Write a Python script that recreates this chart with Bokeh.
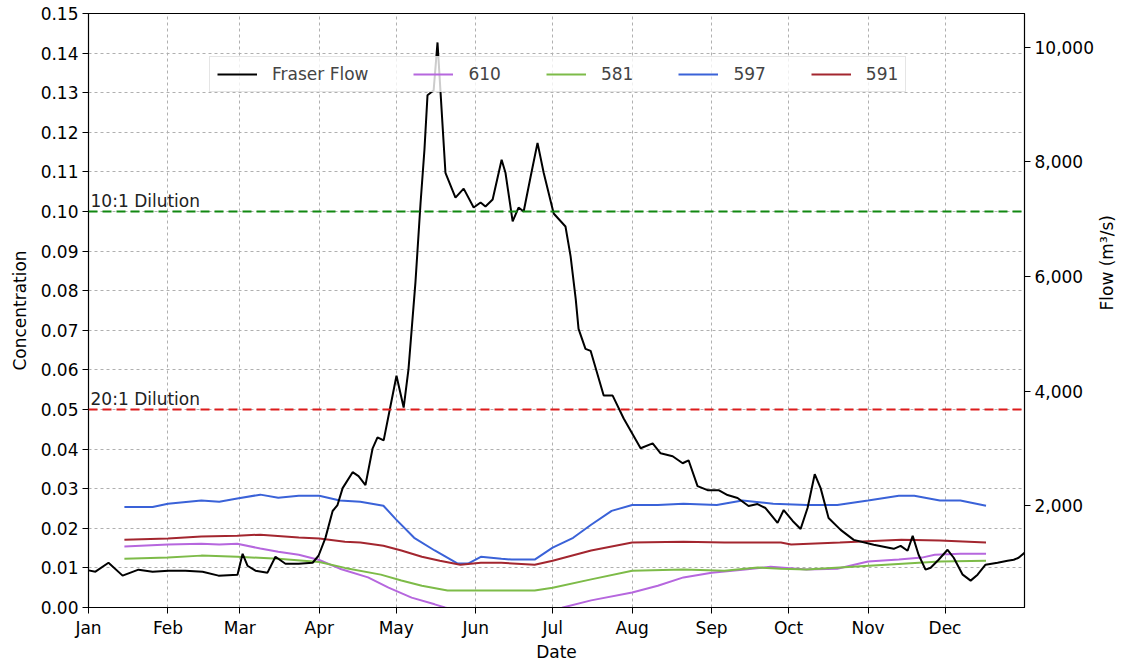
import math
from bokeh.plotting import figure
from bokeh.models import (Range1d, LinearAxis, FixedTicker, NumeralTickFormatter,
                          Span, Label, Legend, LegendItem)
from bokeh.embed import file_html
from bokeh.resources import INLINE

# ---------------- data ----------------
month_labels = ["Jan", "Feb", "Mar", "Apr", "May", "Jun",
                "Jul", "Aug", "Sep", "Oct", "Nov", "Dec"]
month_start_days = [0, 31, 59, 90, 120, 151, 181, 212, 243, 273, 304, 334]

conc_ticks = [0.00, 0.01, 0.02, 0.03, 0.04, 0.05, 0.06, 0.07, 0.08,
              0.09, 0.10, 0.11, 0.12, 0.13, 0.14, 0.15]
flow_ticks = [2000, 4000, 6000, 8000, 10000]

# Fraser River flow (m3/s), day of year
flow_days = [0, 2.7, 7.8, 13.3, 19.5, 25.0, 31.2, 37.8, 44.5, 50.7,
             58.1, 60.1, 62.0, 65.1, 69.8, 72.9, 76.8, 81.9, 87.4, 89.7,
             92.4, 95.2, 97.1, 99.1, 103.0, 105.3, 108.0, 110.8, 112.7, 115.1,
             117.8, 120.1, 122.9, 124.8, 127.5, 129.5, 131.0, 132.2, 134.6, 136.1,
             137.3, 139.2, 143.1, 146.3, 150.2, 152.9, 154.8, 157.6, 161.1, 162.6,
             165.4, 167.7, 169.7, 172.4, 175.1, 177.5, 181.4, 186.0, 188.0, 190.0,
             191.1, 193.8, 195.8, 200.9, 204.4, 208.7, 215.3, 220.0, 223.1, 227.8,
             231.7, 234.0, 237.5, 241.4, 245.7, 249.2, 253.1, 257.4, 260.9, 264.0,
             268.7, 271.1, 274.6, 277.7, 280.4, 283.2, 285.5, 288.6, 293.3, 298.4,
             306.2, 314.0, 316.7, 319.4, 321.4, 323.7, 326.4, 328.4, 331.5, 335.0,
             337.4, 340.9, 344.0, 346.7, 349.8, 354.5, 358.4, 360.8, 362.7, 365]
flow_values = [874, 851, 1007, 782, 886, 851, 868, 868, 851, 782,
               799, 1163, 955, 868, 834, 1111, 990, 990, 1007, 1129,
               1441, 1910, 2014, 2309, 2587, 2518, 2361, 3004, 3195, 3142,
               3750, 4271, 3715, 4392, 5903, 7292, 8212, 9166, 9253, 10086,
               9201, 7812, 7378, 7535, 7205, 7292, 7222, 7344, 8038, 7812,
               6962, 7205, 7135, 7743, 8333, 7812, 7101, 6875, 6354, 5608,
               5087, 4740, 4705, 3924, 3924, 3524, 3004, 3090, 2917, 2865,
               2743, 2795, 2344, 2274, 2274, 2188, 2136, 1997, 2031, 1962,
               1702, 1927, 1736, 1597, 1962, 2552, 2309, 1788, 1580, 1406,
               1320, 1250, 1302, 1216, 1476, 1146, 886, 920, 1059, 1233,
               1094, 799, 695, 799, 972, 1007, 1042, 1059, 1094, 1181]

# Station 610 concentration
s610_days = [14, 31, 44, 51, 58, 67, 74, 82, 90, 98, 109, 117, 126, 135, 139,
             150, 165, 178, 185, 196, 212, 222, 232, 243, 256, 266, 280, 292,
             304, 316, 325, 330, 340, 350]
s610_conc = [0.0154, 0.0159, 0.0161, 0.0159, 0.0161, 0.0149, 0.0141, 0.0133,
             0.0120, 0.0098, 0.0076, 0.0050, 0.0025, 0.0008, 0.0000,
             -0.0020, -0.0030, -0.0020, 0.0000, 0.0018, 0.0038, 0.0055, 0.0076,
             0.0088, 0.0096, 0.0103, 0.0096, 0.0098, 0.0116, 0.0121, 0.0126,
             0.0133, 0.0136, 0.0136]

# Station 581 concentration
s581_days = [14, 31, 44, 58, 74, 90, 100, 114, 122, 130, 140, 150, 161, 174,
             181, 196, 212, 232, 248, 261, 270, 280, 293, 306, 319, 332, 350]
s581_conc = [0.0123, 0.0126, 0.0131, 0.0128, 0.0123, 0.0115, 0.0100, 0.0083,
             0.0068, 0.0055, 0.0043, 0.0043, 0.0043, 0.0043, 0.0050, 0.0071,
             0.0093, 0.0096, 0.0093, 0.0101, 0.0098, 0.0096, 0.0101, 0.0106,
             0.0111, 0.0116, 0.0118]

# Station 597 concentration
s597_days = [14, 25, 31, 44, 51, 58, 67, 74, 82, 90, 98, 106, 115, 120, 127,
             135, 144, 148, 153, 161, 165, 174, 181, 189, 196, 204, 212, 222,
             232, 245, 255, 267, 280, 292, 304, 316, 322, 332, 340, 350]
s597_conc = [0.0254, 0.0254, 0.0262, 0.0270, 0.0267, 0.0275, 0.0285, 0.0277,
             0.0282, 0.0282, 0.0270, 0.0267, 0.0257, 0.0222, 0.0176, 0.0144,
             0.0111, 0.0111, 0.0128, 0.0123, 0.0121, 0.0121, 0.0151, 0.0176,
             0.0209, 0.0244, 0.0259, 0.0259, 0.0262, 0.0259, 0.0270, 0.0262,
             0.0259, 0.0259, 0.0270, 0.0282, 0.0282, 0.0270, 0.0270, 0.0257]

# Station 591 concentration
s591_days = [14, 31, 44, 58, 67, 82, 90, 100, 106, 115, 122, 130, 137, 145,
             153, 161, 174, 181, 196, 212, 232, 248, 270, 274, 293, 317, 332, 350]
s591_conc = [0.0171, 0.0174, 0.0179, 0.0181, 0.0184, 0.0177, 0.0174, 0.0166,
             0.0164, 0.0156, 0.0144, 0.0128, 0.0118, 0.0108, 0.0113, 0.0113,
             0.0108, 0.0118, 0.0144, 0.0164, 0.0166, 0.0164, 0.0164, 0.0159,
             0.0164, 0.0171, 0.0169, 0.0164]

dilution_levels = [0.10, 0.05]
dilution_labels = ["10:1 Dilution", "20:1 Dilution"]

# ---------------- figure ----------------
FONT = "DejaVu Sans"
FS = "17px"

W, H = 1130, 664
FL, FR, FT, FB = 88, 1024, 13, 610   # frame edges in figure pixels

p = figure(width=W, height=H, output_backend="svg", toolbar_location=None,
           x_range=Range1d(0, 365), y_range=Range1d(0, 0.15),
           min_border_left=FL, min_border_right=W - FR, min_border_top=FT,
           min_border_bottom=H - FB)
p.extra_y_ranges = {"flow": Range1d(226, 10591)}

p.outline_line_color = "black"
p.outline_line_alpha = 1.0
p.outline_line_width = 1.2
p.background_fill_color = "white"
p.border_fill_color = "white"

# axes
p.xaxis.ticker = FixedTicker(ticks=month_start_days)
p.xaxis.major_label_overrides = {d: m for d, m in zip(month_start_days, month_labels)}
p.xaxis.axis_label = "Date"
p.yaxis.ticker = FixedTicker(ticks=conc_ticks)
p.yaxis.formatter = NumeralTickFormatter(format="0.00")
p.yaxis.axis_label = "Concentration"

right = LinearAxis(y_range_name="flow", ticker=FixedTicker(ticks=flow_ticks),
                   formatter=NumeralTickFormatter(format="0,0"),
                   axis_label="Flow (m³/s)")
try:
    right.axis_label_orientation = math.pi / 2
except Exception:
    pass
p.add_layout(right, "right")

for ax in [p.xaxis[0], p.yaxis[0], right]:
    ax.major_label_text_font = FONT
    ax.major_label_text_font_size = FS
    ax.major_label_text_color = "black"
    ax.axis_label_text_font = FONT
    ax.axis_label_text_font_size = FS
    ax.axis_label_text_font_style = "normal"
    ax.axis_label_text_color = "black"
    ax.axis_line_color = "black"
    ax.major_tick_line_color = "black"
    ax.major_tick_out = 6
    ax.major_tick_in = 0
    ax.minor_tick_line_color = None
    ax.major_label_standoff = 4
p.xaxis.axis_label_standoff = 1
p.yaxis.axis_label_standoff = 8
right.axis_label_standoff = 10

# grid
p.xgrid.ticker = FixedTicker(ticks=month_start_days)
p.ygrid.ticker = FixedTicker(ticks=conc_ticks)
for g in [p.xgrid[0], p.ygrid[0]]:
    g.grid_line_color = "#b0b0b0"
    g.grid_line_dash = "3 3"
    g.grid_line_width = 1

# dilution lines
dil_colors = ["#118811", "#dd1c1c"]
for lvl, lab, col in zip(dilution_levels, dilution_labels, dil_colors):
    p.add_layout(Span(location=lvl, dimension="width", line_color=col,
                      line_width=2, line_dash="9 5"))
    p.add_layout(Label(x=0.8, y=lvl, text=lab, text_baseline="bottom",
                       y_offset=1, text_font=FONT, text_font_size=FS,
                       text_color="#222222"))

# series
r610 = p.line(s610_days, s610_conc, line_color="#b667de", line_width=2)
r581 = p.line(s581_days, s581_conc, line_color="#7dbb48", line_width=2)
r597 = p.line(s597_days, s597_conc, line_color="#3a62d8", line_width=2)
r591 = p.line(s591_days, s591_conc, line_color="#a3262f", line_width=2)
rflow = p.line(flow_days, flow_values, line_color="black", line_width=2,
               y_range_name="flow")

legend = Legend(items=[LegendItem(label="Fraser Flow", renderers=[rflow]),
                       LegendItem(label="610", renderers=[r610]),
                       LegendItem(label="581", renderers=[r581]),
                       LegendItem(label="597", renderers=[r597]),
                       LegendItem(label="591", renderers=[r591])],
                orientation="horizontal", location=(121, 515),
                label_text_font=FONT, label_text_font_size=FS,
                glyph_width=40, glyph_height=20, label_standoff=15,
                spacing=45, padding=7, margin=0,
                border_line_color="#cccccc", border_line_width=1,
                background_fill_color="white", background_fill_alpha=0.8)
p.add_layout(legend, "center")

open("out.html", "w").write(file_html(p, INLINE))
